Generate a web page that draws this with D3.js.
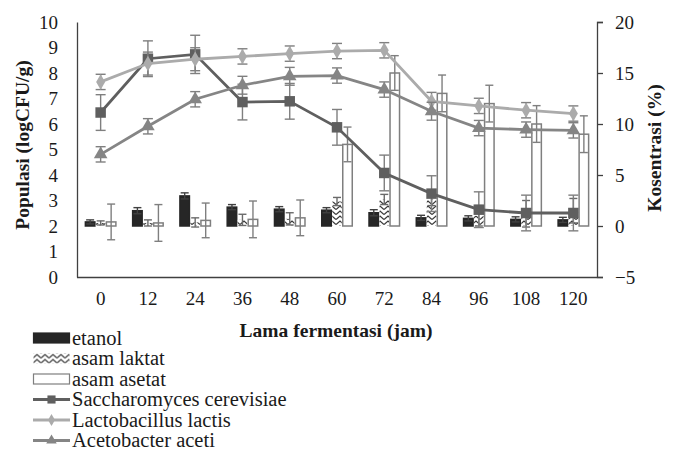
<!DOCTYPE html>
<html lang="en">
<head>
<meta charset="UTF-8" />
<title>Populasi dan Konsentrasi</title>
<script src="https://cdn.jsdelivr.net/npm/d3@7"></script>
<style>
body{margin:0;background:#fff}
svg{font-family:"Liberation Serif","Times New Roman",serif}
</style>
</head>
<body>
<svg id="chart" width="680" height="451"></svg>
<script>
/* ===== data ===== */
const jam=['0','12','24','36','48','60','72','84','96','108','120'];
// bars, right axis (Kosentrasi %)
const etanol     =[0.4,1.5,2.95,1.85,1.65,1.55,1.3,0.8,0.75,0.65,0.6];
const etanolErr  =[0.2,0.3,0.3,0.25,0.25,0.25,0.3,0.25,0.25,0.25,0.25];
const laktat     =[0.3,0.3,0.35,0.6,0.7,2.4,2.6,2.6,1.0,1.2,1.5];
const laktatErr  =[0.2,0.3,0.45,0.55,0.6,0.4,0.5,0.6,1.0,1.3,1.2];
const asetat     =[0.4,0.3,0.55,0.65,0.8,8.0,15.0,13.0,12.0,10.0,9.0];
const asetatErr  =[1.75,1.8,1.7,1.8,1.75,1.7,1.7,1.8,1.8,1.8,1.8];
// lines, left axis (logCFU/g)
const sacch      =[6.45,8.56,8.73,6.86,6.89,5.87,4.08,3.27,2.64,2.51,2.51];
const sacchErr   =[0.7,0.7,0.75,0.7,0.7,0.7,0.7,0.7,0.7,0.7,0.7];
const lacto      =[7.65,8.37,8.54,8.65,8.76,8.86,8.89,6.89,6.71,6.54,6.41];
const lactoErr   =[0.3,0.45,0.45,0.3,0.3,0.3,0.3,0.35,0.3,0.3,0.3];
const aceto      =[4.81,5.91,6.97,7.52,7.87,7.9,7.35,6.5,5.84,5.78,5.75];
const acetoErr   =[0.3,0.3,0.3,0.35,0.35,0.3,0.3,0.35,0.3,0.3,0.3];
const leftTicks  =[0,1,2,3,4,5,6,7,8,9,10];
const rightTicks =[-5,0,5,10,15,20];

const bars=[
  {key:'etanol',label:'etanol',vals:etanol,err:etanolErr,fill:'#262626',stroke:'#262626',errC:'#404040'},
  {key:'laktat',label:'asam laktat',vals:laktat,err:laktatErr,fill:'url(#zig)',stroke:'none',errC:'#6a6a6a'},
  {key:'asetat',label:'asam asetat',vals:asetat,err:asetatErr,fill:'#fff',stroke:'#7f7f7f',errC:'#7f7f7f'}
];
const lines=[
  {label:'Saccharomyces cerevisiae',vals:sacch,err:sacchErr,color:'#5f5f5f',sym:d3.symbolSquare,size:110},
  {label:'Lactobacillus lactis',vals:lacto,err:lactoErr,color:'#ababab',sym:d3.symbolDiamond,size:70},
  {label:'Acetobacter aceti',vals:aceto,err:acetoErr,color:'#858585',sym:d3.symbolTriangle,size:80}
];

/* ===== chart ===== */
const svg=d3.select('#chart');
const L=77,R=597,T=22,B=277;

const defs=svg.append('defs');
const pat=defs.append('pattern').attr('id','zig').attr('patternUnits','userSpaceOnUse')
  .attr('width',8).attr('height',5);
pat.append('rect').attr('width',8).attr('height',5).attr('fill','#fff');
pat.append('path').attr('d','M0,4.5 L4,1 L8,4.5').attr('fill','none').attr('stroke','#3a3a3a').attr('stroke-width',1.3);

const x=d3.scaleBand().domain(jam).range([L,R]);
const bw=x.bandwidth()/4.5;
const xs=d3.scaleBand().domain(bars.map(d=>d.key)).range([bw*0.75,bw*3.75]);
const yL=d3.scaleLinear().domain([0,10]).range([B,T]);
const yR=d3.scaleLinear().domain([-5,20]).range([B,T]);

/* axes */
const gL=svg.append('g').attr('transform',`translate(${L},0)`)
  .call(d3.axisLeft(yL).tickValues(leftTicks).tickSize(0).tickPadding(19));
const gR=svg.append('g').attr('transform',`translate(${R},0)`)
  .call(d3.axisRight(yR).tickValues(rightTicks).tickSize(6).tickPadding(12));
const gB=svg.append('g').attr('transform',`translate(0,${B})`)
  .call(d3.axisBottom(x).tickSize(0).tickPadding(15));
[gL,gR,gB].forEach(g=>{
  g.selectAll('path').attr('stroke','#404040').attr('stroke-width',1.3);
  g.selectAll('line').attr('stroke','#404040').attr('stroke-width',1.3);
  g.selectAll('text').attr('font-family','Liberation Serif').attr('font-size',19).attr('fill','#1a1a1a');
});
gB.select('.domain').attr('d',`M${L},0.5H${R}`);

/* bars (secondary axis) */
bars.forEach(s=>{
  const g=svg.append('g');
  jam.forEach((c,i)=>{
    const x0=x(c)+xs(s.key),v=s.vals[i];
    g.append('rect').attr('x',x0+0.5).attr('y',yR(v)).attr('width',xs.bandwidth()-1)
      .attr('height',yR(0)-yR(v)).attr('fill',s.fill).attr('stroke',s.stroke).attr('stroke-width',1.5);
  });
});
bars.forEach(s=>{
  const g=svg.append('g').attr('stroke',s.errC).attr('stroke-width',1.4);
  jam.forEach((c,i)=>{
    const cx=x(c)+xs(s.key)+xs.bandwidth()/2,y1=yR(s.vals[i]+s.err[i]),y0=yR(s.vals[i]-s.err[i]);
    g.append('line').attr('x1',cx).attr('x2',cx).attr('y1',y1).attr('y2',y0);
    g.append('line').attr('x1',cx-4).attr('x2',cx+4).attr('y1',y1).attr('y2',y1);
    g.append('line').attr('x1',cx-4).attr('x2',cx+4).attr('y1',y0).attr('y2',y0);
  });
});

/* lines (primary axis) */
const cxOf=c=>x(c)+x.bandwidth()/2;
lines.forEach(s=>{
  const g=svg.append('g');
  const eg=g.append('g').attr('stroke','#7f7f7f').attr('stroke-width',1.4);
  jam.forEach((c,i)=>{
    const cx=cxOf(c),y1=yL(s.vals[i]+s.err[i]),y0=yL(s.vals[i]-s.err[i]);
    eg.append('line').attr('x1',cx).attr('x2',cx).attr('y1',y1).attr('y2',y0);
    eg.append('line').attr('x1',cx-5).attr('x2',cx+5).attr('y1',y1).attr('y2',y1);
    eg.append('line').attr('x1',cx-5).attr('x2',cx+5).attr('y1',y0).attr('y2',y0);
  });
  g.append('path').datum(s.vals).attr('fill','none').attr('stroke',s.color).attr('stroke-width',2.8)
    .attr('d',d3.line().x((d,i)=>cxOf(jam[i])).y(d=>yL(d)));
  g.selectAll('path.m').data(s.vals).join('path').attr('class','m')
    .attr('transform',(d,i)=>`translate(${cxOf(jam[i])},${yL(d)})`)
    .attr('d',d3.symbol(s.sym,s.size)).attr('fill',s.color);
});

/* titles */
svg.append('text').attr('transform','translate(29,145) rotate(-90)').attr('text-anchor','middle')
  .attr('font-size',19.5).attr('font-weight','bold').attr('fill','#1a1a1a').text('Populasi (logCFU/g)');
svg.append('text').attr('transform','translate(661,148) rotate(-90)').attr('text-anchor','middle')
  .attr('font-size',19.5).attr('font-weight','bold').attr('fill','#1a1a1a').text('Kosentrasi (%)');
svg.append('text').attr('x',336).attr('y',337).attr('text-anchor','middle')
  .attr('font-size',19.5).attr('font-weight','bold').attr('fill','#1a1a1a').text('Lama fermentasi (jam)');

/* legend */
const lg=svg.append('g').attr('transform','translate(33,338)');
const items=[...bars.map(d=>({t:'bar',d})),...lines.map(d=>({t:'line',d}))];
items.forEach((it,i)=>{
  const g=lg.append('g').attr('transform',`translate(0,${i*20.5})`);
  if(it.t==='bar'){
    g.append('rect').attr('x',0.5).attr('y',-5).attr('width',36).attr('height',10)
      .attr('fill',it.d.fill).attr('stroke',it.d.stroke).attr('stroke-width',1.2);
  }else{
    g.append('line').attr('x1',0).attr('x2',37).attr('stroke',it.d.color).attr('stroke-width',2.8);
    g.append('path').attr('transform','translate(18.5,0)').attr('d',d3.symbol(it.d.sym,it.d.size*0.6)).attr('fill',it.d.color);
  }
  g.append('text').attr('x',39).attr('y',6.5).attr('font-size',20.5).attr('fill','#1a1a1a').text(it.d.label);
});
</script>
</body>
</html>
